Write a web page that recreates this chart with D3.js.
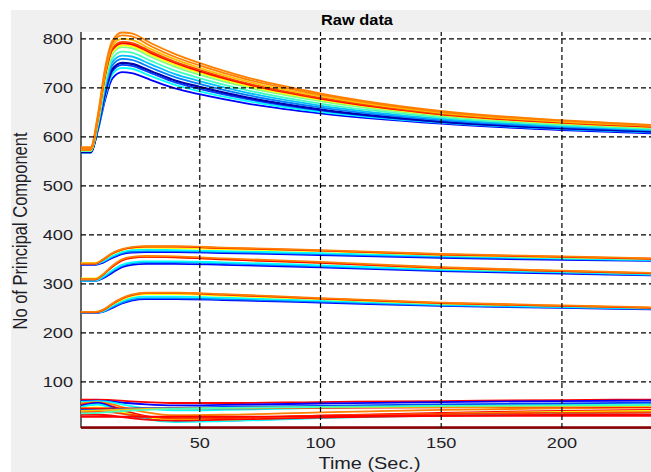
<!DOCTYPE html>
<html lang="en">
<head>
<meta charset="UTF-8" />
<title>Raw data</title>
<script src="https://d3js.org/d3.v7.min.js"></script>
<style>
  html, body { margin: 0; padding: 0; background: #fff; }
  svg { display: block; font-family: "Liberation Sans", Arial, sans-serif; }
</style>
</head>
<body>
<div id="chart"></div>
<script>
// axis ticks
const xTicks = [50, 100, 150, 200];
const yTicks = [100, 200, 300, 400, 500, 600, 700, 800];

// upper group (peak ~ 20 s, slow decay)
const tTop = [1, 5, 8, 11, 14, 18, 22, 30, 40, 50, 70, 100, 150, 200, 240];
const topValues = [
  [567, 567, 612, 675, 718, 731, 729, 715, 698, 686, 667, 647, 626, 613, 606],
  [567, 567, 614, 681, 727, 740, 738, 723, 705, 692, 672, 650, 628, 615, 608],
  [568, 568, 616, 686, 733, 746, 744, 729, 710, 697, 676, 653, 629, 616, 609],
  [568, 568, 618, 690, 737, 750, 748, 733, 714, 701, 679, 655, 630, 617, 610],
  [570, 570, 620, 697, 745, 758, 756, 740, 721, 707, 684, 659, 633, 619, 612],
  [570, 570, 622, 702, 752, 765, 763, 747, 727, 713, 689, 663, 636, 621, 613],
  [570, 570, 626, 708, 759, 773, 771, 754, 734, 719, 694, 667, 639, 623, 615],
  [571, 571, 630, 716, 768, 782, 780, 762, 742, 726, 700, 672, 642, 626, 617],
  [572, 572, 632, 720, 773, 786, 784, 766, 746, 730, 703, 675, 644, 627, 618],
  [573, 573, 635, 724, 777, 790, 788, 770, 750, 733, 706, 677, 645, 628, 619],
  [574, 574, 636, 726, 780, 793, 791, 773, 752, 736, 708, 679, 646, 629, 620],
  [575, 575, 638, 730, 785, 799, 797, 778, 757, 740, 712, 682, 648, 630, 621],
  [576, 576, 640, 735, 790, 806, 804, 784, 762, 745, 716, 685, 650, 632, 622],
  [578, 578, 645, 740, 795, 812, 810, 790, 768, 750, 720, 688, 652, 633, 623]
];
const topColors = ["#0000ff", "#00ffff", "#0040ff", "#0000b0", "#0080ff", "#00bfff", "#40ffbf",
  "#80ff80", "#ffff00", "#ff0000", "#ff4000", "#ffbf00", "#ff8000", "#ff8000"];

// three middle bundles
const tMid = [1, 7, 10, 14, 18, 22, 28, 40, 60, 100, 150, 200, 240];
const midValues = [
  [338, 338, 342, 352, 360, 363, 364, 364, 362, 358, 352, 348, 346],
  [339, 339, 344, 354, 362, 365, 366, 366, 364, 360, 354, 350, 347],
  [340, 340, 345, 356, 364, 368, 369, 368, 366, 362, 356, 351, 348],
  [342, 342, 348, 360, 368, 372, 373, 372, 370, 366, 358, 353, 350],
  [340, 340, 348, 361, 369, 373, 375, 375, 372, 367, 359, 354, 350],
  [341, 341, 349, 362, 370, 374, 376, 376, 373, 368, 360, 355, 351],
  [305, 305, 310, 322, 333, 338, 340, 340, 338, 333, 325, 320, 316],
  [306, 306, 312, 325, 336, 341, 343, 343, 341, 335, 327, 322, 317],
  [306, 306, 313, 327, 338, 343, 345, 345, 343, 337, 328, 323, 318],
  [310, 310, 318, 334, 347, 352, 354, 353, 349, 342, 331, 325, 320],
  [308, 308, 317, 334, 347, 352, 354, 353, 349, 342, 332, 325, 320],
  [309, 309, 318, 336, 349, 354, 356, 355, 351, 344, 333, 326, 321],
  [240, 240, 242, 250, 259, 265, 268, 268, 266, 261, 254, 250, 247],
  [240, 240, 242, 252, 261, 267, 270, 270, 268, 263, 255, 251, 248],
  [241, 241, 243, 254, 264, 270, 273, 273, 271, 265, 257, 252, 249],
  [242, 242, 245, 257, 267, 274, 278, 278, 275, 268, 259, 254, 250],
  [241, 241, 245, 258, 269, 276, 280, 280, 277, 269, 260, 254, 250],
  [242, 242, 246, 259, 270, 277, 281, 281, 278, 270, 261, 255, 251]
];
const midColors = ["#0000ff", "#0080ff", "#00ffff", "#ffff00", "#ff0000", "#ff8000",
  "#0000ff", "#0080ff", "#00ffff", "#ffff00", "#ff0000", "#ff8000",
  "#0000ff", "#0080ff", "#00ffff", "#ffff00", "#ff0000", "#ff8000"];

// low tangle near the bottom
const tLow = [1, 8, 14, 20, 28, 40, 60, 100, 150, 200, 240];
const lowValues = [
  [63, 63, 62, 60, 58, 56, 56, 58, 60, 62, 63],
  [60, 61, 59, 56, 53, 51, 52, 55, 58, 60, 61],
  [58, 60, 57, 51, 45, 41, 42, 46, 50, 52, 54],
  [55, 58, 53, 45, 37, 31, 32, 37, 42, 45, 47],
  [52, 56, 49, 39, 29, 23, 24, 30, 36, 40, 42],
  [50, 56, 47, 35, 25, 19, 20, 26, 33, 37, 39],
  [48, 53, 45, 33, 23, 17, 19, 25, 31, 35, 37],
  [45, 47, 43, 35, 27, 21, 22, 28, 34, 38, 40],
  [45, 45, 45, 45, 45, 45, 45, 46, 47, 48, 48],
  [38, 38, 37, 33, 28, 25, 26, 30, 34, 36, 37],
  [32, 32, 30, 26, 22, 20, 22, 26, 30, 32, 33],
  [42, 42, 43, 44, 45, 46, 48, 50, 53, 55, 57],
  [40, 41, 42, 43, 44, 45, 46, 47, 48, 49, 50],
  [28, 28, 28, 28, 28, 28, 28, 29, 30, 30, 30],
  [35, 36, 38, 40, 42, 44, 46, 48, 50, 51, 52],
  [6, 6, 6, 6, 6, 6, 6, 6, 6, 6, 6]
];
const lowColors = ["#ff0000", "#0000ff", "#00ffff", "#ff8000", "#ff0000", "#0000ff", "#00ffff",
  "#ffff00", "#ff0000", "#ff4000", "#ff0000", "#0040ff", "#ffbf00", "#ff0000", "#40ffbf", "#8b0000"];

function renderChart(sel) {
  const W = 651, H = 472;
  const margin = { left: 81, top: 32 };
  const width = 577, height = 396; // axes run past the right edge, like the screenshot
  const stretch = 1.17; // the screenshot is a bit wider than tall

  function stretchText() {
    const w = this.getComputedTextLength();
    d3.select(this).attr("textLength", w * stretch).attr("lengthAdjust", "spacingAndGlyphs");
  }

  const svg = d3.select(sel).append("svg").attr("width", W).attr("height", H);

  // figure background
  svg.append("rect")
    .attr("x", 11).attr("y", 10)
    .attr("width", W - 11).attr("height", H - 10)
    .attr("fill", "#f0f0f0");

  const g = svg.append("g").attr("transform", `translate(${margin.left},${margin.top})`);
  g.append("rect").attr("width", width).attr("height", height).attr("fill", "#fff");

  const x = d3.scaleLinear().domain([1, 240]).range([0, width]);
  const y = d3.scaleLinear().domain([5, 813]).range([height, 0]);

  g.append("clipPath").attr("id", "plot-clip")
    .append("rect").attr("x", 0).attr("y", -1).attr("width", width).attr("height", height + 2);

  // axis box lines
  g.append("line").attr("x1", 0).attr("x2", 0).attr("y1", 0).attr("y2", height)
    .attr("stroke", "#333").attr("stroke-width", 1.5);
  g.append("line").attr("x1", 0).attr("x2", width).attr("y1", height).attr("y2", height)
    .attr("stroke", "#000").attr("stroke-width", 1);

  const plot = g.append("g").attr("clip-path", "url(#plot-clip)");

  function drawGroup(ts, vals, cols) {
    const line = d3.line()
      .x((d, i) => x(ts[i]))
      .y(d => y(d))
      .curve(d3.curveMonotoneX);
    plot.append("g").selectAll("path")
      .data(vals)
      .enter()
      .append("path")
      .attr("d", line)
      .attr("fill", "none")
      .attr("stroke", (d, i) => cols[i])
      .attr("stroke-width", (d, i) => (cols[i] === "#8b0000" || cols[i] === "#0000b0") ? 2.3 : 1.8);
  }

  drawGroup(tLow, lowValues, lowColors);
  drawGroup(tMid, midValues, midColors);
  drawGroup(tTop, topValues, topColors);

  // grid + tick labels
  const gx = g.append("g")
    .attr("transform", `translate(0,${height})`)
    .call(d3.axisBottom(x).tickValues(xTicks).tickSize(-height).tickPadding(9));
  const gy = g.append("g")
    .call(d3.axisLeft(y).tickValues(yTicks).tickSize(-width).tickPadding(8));

  [gx, gy].forEach(a => {
    a.select(".domain").remove();
    a.selectAll(".tick line")
      .attr("stroke", "#000")
      .attr("stroke-width", 1.2)
      .attr("stroke-dasharray", "5,3");
    a.selectAll(".tick text")
      .attr("fill", "#1e1e28")
      .style("font-family", "'Liberation Sans', Arial, sans-serif")
      .style("font-size", "15.5px")
      .each(stretchText);
  });

  // title
  svg.append("text")
    .attr("x", 357).attr("y", 25)
    .attr("text-anchor", "middle")
    .style("font-weight", "bold")
    .style("font-size", "14px")
    .attr("fill", "#000")
    .text("Raw data")
    .each(stretchText);

  // axis labels
  svg.append("text")
    .attr("x", margin.left + width / 2).attr("y", 469)
    .attr("text-anchor", "middle")
    .style("font-size", "17px")
    .attr("fill", "#1e1e28")
    .text("Time (Sec.)")
    .each(stretchText);

  svg.append("text")
    .attr("transform", `translate(27,231) scale(${stretch},1) rotate(-90)`)
    .attr("text-anchor", "middle")
    .style("font-size", "16.5px")
    .attr("fill", "#1e1e28")
    .text("No of Principal Component");
}

renderChart("#chart");
</script>
</body>
</html>
